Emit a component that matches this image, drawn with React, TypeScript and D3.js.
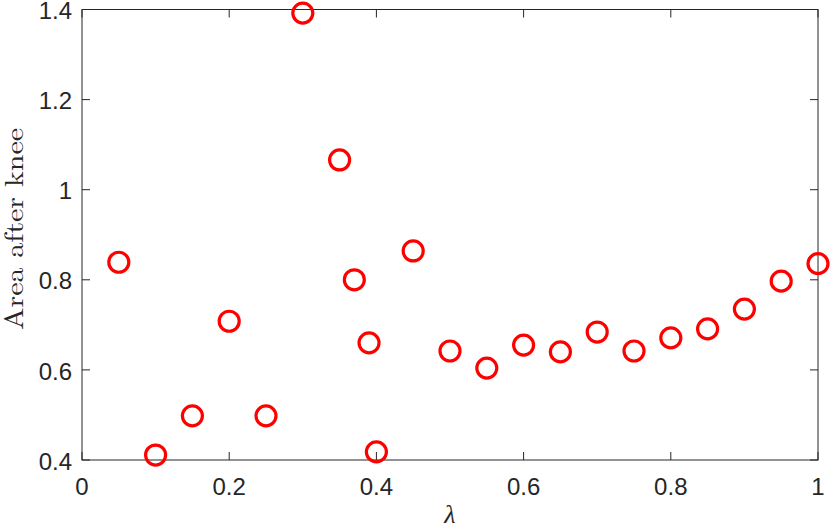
import React, { useRef, useEffect } from "react";
import * as d3 from "d3";

// lambda values and the area after the knee
const lambdas = [
  0.05, 0.1, 0.15, 0.2, 0.25, 0.3, 0.35, 0.37, 0.39, 0.4, 0.45, 0.5, 0.55,
  0.6, 0.65, 0.7, 0.75, 0.8, 0.85, 0.9, 0.95, 1.0,
];
const areas = [
  0.839, 0.411, 0.498, 0.708, 0.498, 1.392, 1.066, 0.8, 0.66, 0.418, 0.864,
  0.642, 0.604, 0.655, 0.64, 0.684, 0.642, 0.671, 0.691, 0.735, 0.797, 0.836,
];
const xTicks = [0, 0.2, 0.4, 0.6, 0.8, 1];
const yTicks = [0.4, 0.6, 0.8, 1, 1.2, 1.4];

const W = 830;
const H = 528;

const App = () => {
  const ref = useRef<SVGSVGElement>(null);

  useEffect(() => {
    const svg = d3.select(ref.current);
    svg.selectAll("*").remove();

    const margin = { top: 9.5, right: 12, bottom: 68, left: 82 };
    const x = d3.scaleLinear().domain([0, 1]).range([margin.left, W - margin.right]);
    const y = d3.scaleLinear().domain([0.4, 1.4]).range([H - margin.bottom, margin.top]);
    const axisColor = "#262626";
    const tickLen = 8;
    const tickFont = "'Liberation Sans', Arial, Helvetica, sans-serif";

    // box
    svg
      .append("rect")
      .attr("x", x(0))
      .attr("y", y(1.4))
      .attr("width", x(1) - x(0))
      .attr("height", y(0.4) - y(1.4))
      .attr("fill", "none")
      .attr("stroke", axisColor)
      .attr("stroke-width", 1);

    // x ticks, bottom and top, pointing inward
    xTicks.forEach((t) => {
      svg.append("line")
        .attr("x1", x(t)).attr("x2", x(t))
        .attr("y1", y(0.4)).attr("y2", y(0.4) - tickLen)
        .attr("stroke", axisColor);
      svg.append("line")
        .attr("x1", x(t)).attr("x2", x(t))
        .attr("y1", y(1.4)).attr("y2", y(1.4) + tickLen)
        .attr("stroke", axisColor);
      svg.append("text")
        .attr("x", x(t))
        .attr("y", y(0.4) + 35)
        .attr("text-anchor", "middle")
        .attr("font-family", tickFont)
        .attr("font-size", "24px")
        .attr("fill", axisColor)
        .text(d3.format("~g")(t));
    });

    // y ticks, left and right
    yTicks.forEach((t) => {
      svg.append("line")
        .attr("x1", x(0)).attr("x2", x(0) + tickLen)
        .attr("y1", y(t)).attr("y2", y(t))
        .attr("stroke", axisColor);
      svg.append("line")
        .attr("x1", x(1)).attr("x2", x(1) - tickLen)
        .attr("y1", y(t)).attr("y2", y(t))
        .attr("stroke", axisColor);
      svg.append("text")
        .attr("x", x(0) - 10)
        .attr("y", y(t))
        .attr("dy", "0.4em")
        .attr("text-anchor", "end")
        .attr("font-family", tickFont)
        .attr("font-size", "24px")
        .attr("fill", axisColor)
        .text(d3.format("~g")(t));
    });

    // markers
    svg
      .append("g")
      .selectAll("circle")
      .data(lambdas.map((l, i) => [l, areas[i]]))
      .join("circle")
      .attr("cx", (d) => x(d[0]))
      .attr("cy", (d) => y(d[1]))
      .attr("r", 10)
      .attr("fill", "none")
      .attr("stroke", "#ff0000")
      .attr("stroke-width", 3.2);

    // axis labels
    const serif = "'Latin Modern Roman', 'CMU Serif', 'Liberation Serif', 'Times New Roman', serif";
    svg
      .append("text")
      .attr("transform", `translate(23,229) rotate(-90)`)
      .attr("text-anchor", "middle")
      .attr("font-family", serif)
      .attr("font-size", "26px")
      .attr("fill", axisColor)
      .attr("textLength", 202)
      .attr("lengthAdjust", "spacingAndGlyphs")
      .text("Area after knee");

    svg
      .append("text")
      .attr("x", 450)
      .attr("y", 523)
      .attr("text-anchor", "middle")
      .attr("font-family", serif)
      .attr("font-style", "italic")
      .attr("font-size", "26px")
      .attr("fill", axisColor)
      .text("λ");
  }, []);

  return (
    <div style={{ position: "absolute", left: 0, top: 0 }}>
      <svg ref={ref} width={W} height={H} style={{ display: "block", background: "#fff" }}></svg>
    </div>
  );
};

export default App;
